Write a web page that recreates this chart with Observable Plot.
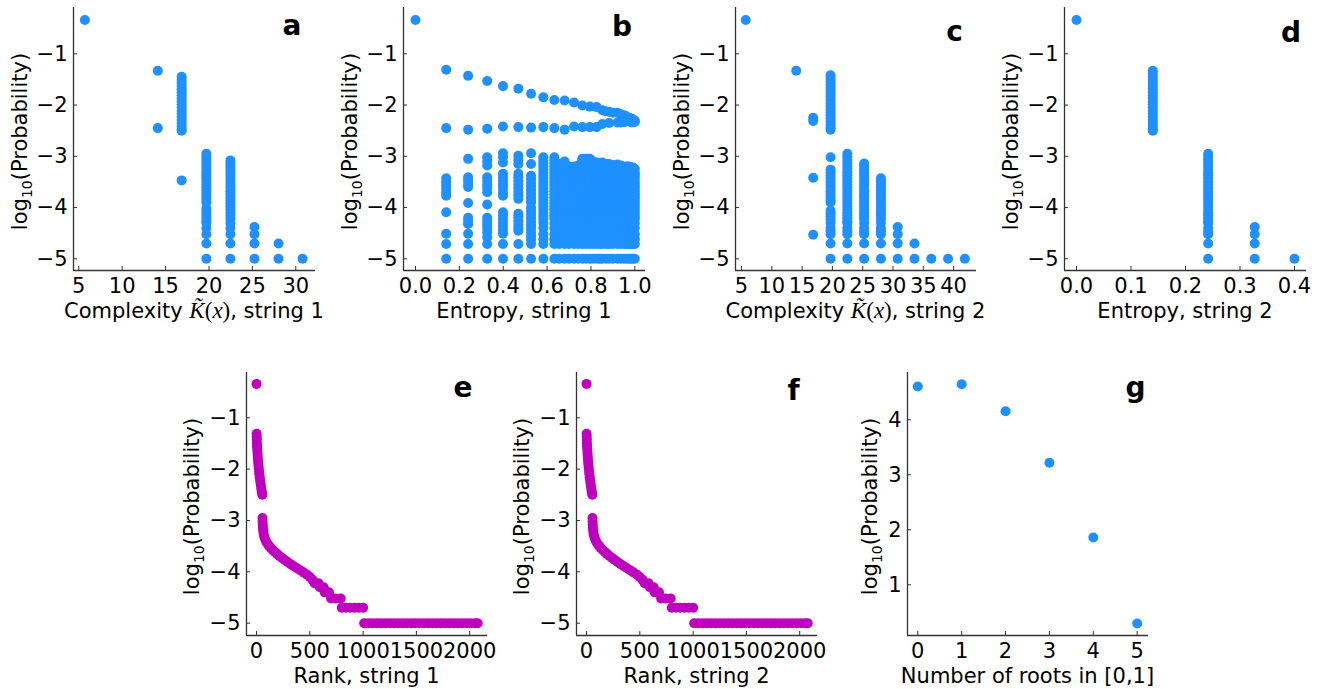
<!DOCTYPE html>
<html><head><meta charset="utf-8">
<script src="https://cdn.jsdelivr.net/npm/d3@7"></script>
<script src="https://cdn.jsdelivr.net/npm/@observablehq/plot@0.6"></script>
<style>
html,body{margin:0;padding:0;background:#fff;}
#fig{position:relative;width:1320px;height:689px;overflow:hidden;font-family:"DejaVu Sans";}
#fig svg{position:absolute;overflow:visible;max-width:none;}
#fig svg g[aria-label$="tick label"], #fig svg g[aria-label$="tick label"] text{font-size:21px !important;}
</style></head><body><div id="fig"></div>
<script>
// ---------- Panel a: complexity of string 1 ----------
const aComplexity = [5.7, 14.1, 16.85, 19.7, 22.47, 25.24, 28.01, 30.78];
const aLogP = [
  [-0.34],
  [-1.33, -2.45],
  [-1.45,-1.51,-1.57,-1.63,-1.69,-1.75,-1.81,-1.87,-1.93,-1.99,-2.05,-2.11,-2.17,-2.23,-2.29,-2.35,-2.41,-2.47,-2.5,-3.47],
  [-2.95,-3.01,-3.07,-3.13,-3.19,-3.25,-3.31,-3.37,-3.43,-3.49,-3.55,-3.61,-3.67,-3.73,-3.79,-3.85,-3.9,-4.02,-4.08,-4.14,-4.2,-4.26,-4.3,-4.4,-4.52,-4.7,-5],
  [-3.08,-3.14,-3.2,-3.26,-3.32,-3.38,-3.44,-3.5,-3.56,-3.62,-3.68,-3.74,-3.8,-3.86,-3.92,-3.98,-4.04,-4.1,-4.16,-4.22,-4.3,-4.4,-4.52,-4.7,-5],
  [-4.38,-4.52,-4.7,-5],
  [-4.7,-5],
  [-5]
];

// ---------- Panel b: entropy of string 1 ----------
const bTopEntropy = [0];
const bTopLogP = [-0.34];
const bArcEntropy = [0.14,0.24,0.327,0.399,0.469,0.527,0.583,0.633,0.68,0.723,0.761,0.795,0.826,0.852,0.883,0.921,0.951,0.974,0.992];
const bUpperArc = [-1.31,-1.43,-1.53,-1.63,-1.68,-1.78,-1.85,-1.9,-1.91,-1.95,-2.01,-2.03,-2.04,-2.1,-2.13,-2.15,-2.2,-2.25,-2.29];
const bLowerArc = [-2.45,-2.48,-2.46,-2.42,-2.43,-2.44,-2.43,-2.45,-2.48,-2.42,-2.43,-2.43,-2.43,-2.37,-2.35,-2.34,-2.33,-2.3,-2.29];
const bTipEntropy = [0.866,0.9,0.935,0.96,0.985,1.0,0.985,1.0,0.96,0.935];
const bTipLogP = [-2.12,-2.15,-2.18,-2.22,-2.26,-2.3,-2.34,-2.33,-2.32,-2.34];
const bColEntropy = [0.14,0.24,0.327,0.399,0.469,0.527];
const bColLogP = [
  [-3.43,-3.5,-3.57,-3.64,-3.71,-3.77,-4.09,-4.51,-4.71,-5],
  [-3.05,-3.41,-3.47,-3.54,-3.6,-3.91,-4.2,-4.26,-4.32,-4.51,-4.71,-5],
  [-3.02,-3.1,-3.18,-3.41,-3.48,-3.55,-3.62,-3.7,-3.94,-4.2,-4.27,-4.34,-4.41,-4.48,-4.58,-4.71,-5],
  [-2.94,-3.02,-3.12,-3.34,-3.41,-3.48,-3.55,-3.62,-3.7,-3.77,-4.09,-4.16,-4.23,-4.3,-4.37,-4.44,-4.51,-4.71,-5],
  [-2.99,-3.07,-3.15,-3.34,-3.41,-3.48,-3.55,-3.62,-3.69,-3.76,-3.83,-4.12,-4.19,-4.26,-4.33,-4.4,-4.45,-4.71,-5],
  [-2.94,-3.15,-3.38,-3.45,-3.52,-3.59,-3.66,-3.73,-3.8,-3.86,-3.9,-4.0,-4.07,-4.14,-4.21,-4.28,-4.35,-4.42,-4.49,-4.56,-4.63,-4.71,-5]
];
const bBlockEntropy = [0.583,0.633,0.655,0.68,0.70,0.723,0.742,0.761,0.778,0.795,0.81,0.826,0.84,0.852,0.868,0.883,0.90,0.921,0.936,0.951,0.963,0.974,0.984,0.992,1.0];
const bBlockTop = [-3.02,-3.02,-3.15,-3.1,-3.2,-3.2,-3.18,-3.05,-3.05,-3.05,-3.1,-3.12,-3.15,-3.12,-3.15,-3.15,-3.17,-3.16,-3.18,-3.2,-3.2,-3.2,-3.22,-3.22,-3.25];
const bBlockLevels = [-3.08,-3.14,-3.2,-3.26,-3.32,-3.38,-3.44,-3.5,-3.56,-3.62,-3.68,-3.74,-3.8,-3.86,-3.92,-3.98,-4.04,-4.1,-4.16,-4.22,-4.3,-4.4,-4.52,-4.62,-4.71,-5];

// ---------- Panel c: complexity of string 2 ----------
const cComplexity = [5.7, 14.03, 16.83, 19.7, 22.47, 25.24, 28.01, 30.78, 33.55, 36.32, 39.09, 41.86];
const cLogP = [
  [-0.34],
  [-1.33],
  [-2.25,-2.31,-3.42,-4.53],
  [-1.42,-1.48,-1.54,-1.6,-1.66,-1.72,-1.78,-1.84,-1.9,-1.96,-2.02,-2.08,-2.14,-2.2,-2.26,-2.32,-2.38,-2.44,-2.48,-3.02,-3.26,-3.32,-3.38,-3.44,-3.5,-3.56,-3.62,-3.68,-3.74,-3.8,-3.86,-3.9,-4.06,-4.12,-4.18,-4.24,-4.3,-4.4,-4.46,-4.52,-4.7,-5],
  [-2.95,-3.01,-3.07,-3.13,-3.19,-3.25,-3.31,-3.37,-3.43,-3.49,-3.55,-3.61,-3.67,-3.73,-3.79,-3.85,-3.91,-3.97,-4.03,-4.09,-4.15,-4.21,-4.27,-4.3,-4.4,-4.46,-4.52,-4.7,-5],
  [-3.14,-3.2,-3.26,-3.32,-3.38,-3.44,-3.5,-3.56,-3.62,-3.68,-3.74,-3.8,-3.86,-3.92,-3.98,-4.04,-4.1,-4.16,-4.22,-4.3,-4.4,-4.46,-4.52,-4.7,-5],
  [-3.43,-3.49,-3.55,-3.61,-3.67,-3.73,-3.79,-3.85,-3.91,-3.97,-4.03,-4.09,-4.15,-4.22,-4.3,-4.4,-4.46,-4.52,-4.7,-5],
  [-4.38,-4.52,-4.7,-5],
  [-4.7,-5],
  [-5],
  [-5],
  [-5]
];

// ---------- Panel d: entropy of string 2 ----------
const dEntropy = [0, 0.14, 0.2416, 0.327, 0.4];
const dLogP = [
  [-0.34],
  [-1.33,-1.39,-1.45,-1.51,-1.57,-1.63,-1.69,-1.75,-1.81,-1.87,-1.93,-1.99,-2.05,-2.11,-2.17,-2.23,-2.29,-2.35,-2.41,-2.47,-2.5],
  [-2.95,-3.01,-3.07,-3.13,-3.19,-3.25,-3.31,-3.37,-3.43,-3.49,-3.55,-3.61,-3.67,-3.73,-3.79,-3.85,-3.91,-3.97,-4.03,-4.09,-4.15,-4.21,-4.27,-4.3,-4.4,-4.46,-4.52,-4.7,-5],
  [-4.38,-4.52,-4.7,-5],
  [-5]
];

// ---------- Panels e, f: rank plots ----------
const eRank = [0,1,2,3,4,5,7,9,11,13,15,18,21,24,27,30,34,38,42,46,50,54,
  56,57,58,60,63,66,72,80,90,102,116,132,150,170,192,215,240,265,292,320,350,380,410,440,470,500,525,545,580,595,630,640,680,700,740,790,
  800,840,880,920,960,1000,
  1010,1050,1090,1130,1170,1210,1250,1290,1330,1370,1410,1450,1490,1530,1570,1610,1650,1690,1730,1770,1810,1850,1890,1930,1970,2010,2050,2075];
const eLogP = [-0.34,-1.31,-1.37,-1.43,-1.5,-1.56,-1.62,-1.68,-1.74,-1.8,-1.86,-1.92,-1.98,-2.04,-2.1,-2.16,-2.22,-2.28,-2.34,-2.4,-2.45,-2.5,
  -2.95,-3.02,-3.08,-3.14,-3.2,-3.26,-3.31,-3.36,-3.41,-3.45,-3.49,-3.53,-3.57,-3.61,-3.65,-3.69,-3.73,-3.77,-3.81,-3.85,-3.89,-3.93,-3.97,-4.01,-4.05,-4.1,-4.155,-4.22,-4.22,-4.3,-4.3,-4.4,-4.4,-4.52,-4.52,-4.52,
  -4.7,-4.7,-4.7,-4.7,-4.7,-4.7,
  -5,-5,-5,-5,-5,-5,-5,-5,-5,-5,-5,-5,-5,-5,-5,-5,-5,-5,-5,-5,-5,-5,-5,-5,-5,-5,-5,-5];
// string 2 reads the same as string 1 in the picture
const fRank = eRank.slice();
const fLogP = eLogP.slice();

// ---------- Panel g: number of roots ----------
const gRoots = [0, 1, 2, 3, 4, 5];
const gLogP = [4.605, 4.646, 4.156, 3.22, 1.86, 0.296];

// ---------- tables ----------
const cols = (xs, ys) => xs.flatMap((x, i) => ys[i].map(y => ({x, y})));
const pairs = (xs, ys) => xs.map((x, i) => ({x, y: ys[i]}));
const aData = cols(aComplexity, aLogP);
const bData = [
  ...pairs(bTopEntropy, bTopLogP),
  ...pairs(bArcEntropy, bUpperArc),
  ...pairs(bArcEntropy, bLowerArc),
  ...pairs(bTipEntropy, bTipLogP),
  ...cols(bColEntropy, bColLogP),
  ...bBlockEntropy.flatMap((x, i) => [bBlockTop[i], ...bBlockLevels.filter(l => l < bBlockTop[i] - 0.03)].map(y => ({x, y})))
];
const cData = cols(cComplexity, cLogP);
const dData = cols(dEntropy, dLogP);
const eData = pairs(eRank, eLogP);
const fData = pairs(fRank, fLogP);
const gData = pairs(gRoots, gLogP);

// ---------- drawing ----------
const BLUE = "#1e90ff", MAGENTA = "#bf00bf";
const FS = 21;
const mL = 90, mT = 12, mR = 20, mB = 80;
const fig = document.getElementById("fig");
const fmtInt = d3.format("d"), fmt1 = d3.format(".1f");
const logLabel = (t) => { t.append("tspan").text("log"); t.append("tspan").attr("font-size", 14).attr("dy", 5).text("10"); t.append("tspan").attr("dy", -5).text("(Probability)"); };
const kLabel = (n) => (t) => {
  t.append("tspan").text("Complexity ");
  t.append("tspan").attr("font-family", "Liberation Serif").attr("font-style", "italic").attr("font-size", 23).text("K\u0303");
  t.append("tspan").attr("font-family", "Liberation Serif").attr("font-size", 23).text("(");
  t.append("tspan").attr("font-family", "Liberation Serif").attr("font-style", "italic").attr("font-size", 23).text("x");
  t.append("tspan").attr("font-family", "Liberation Serif").attr("font-size", 23).text(")");
  t.append("tspan").text(", string " + n);
};
const plainLabel = (s) => (t) => t.text(s);

function panel(c) {
  const svg = Plot.plot({
    width: c.w + mL + mR, height: c.h + mT + mB,
    marginLeft: mL, marginRight: mR, marginTop: mT, marginBottom: mB,
    style: {fontFamily: "DejaVu Sans", fontSize: FS + "px", color: "#000", background: "transparent", overflow: "visible"},
    x: {domain: c.xDomain}, y: {domain: c.yDomain},
    marks: [
      Plot.axisX({ticks: c.xTicks, tickFormat: c.xFmt, tickSize: -4, tickPadding: 12, label: null, fontSize: FS, stroke: "#333"}),
      Plot.axisY({ticks: c.yTicks, tickFormat: c.yFmt, tickSize: -4, tickPadding: 10, label: null, fontSize: FS, stroke: "#333"}),
      Plot.ruleX([c.xDomain[0]], {stroke: "#333", strokeWidth: 1.3}),
      Plot.ruleY([c.yDomain[0]], {stroke: "#333", strokeWidth: 1.3}),
      Plot.dot(c.data, {x: "x", y: "y", r: 5, fill: c.color})
    ]
  });
  svg.style.left = (c.left - mL) + "px";
  svg.style.top = (c.top - mT) + "px";
  const s = d3.select(svg);
  const xl = s.append("text").attr("x", mL + c.w / 2).attr("y", mT + c.h + 48)
    .attr("text-anchor", "middle").attr("font-size", FS).attr("fill", "#000");
  c.xLabel(xl);
  const yl = s.append("text").attr("text-anchor", "middle").attr("font-size", FS).attr("fill", "#000")
    .attr("transform", `translate(${mL - c.yGap},${mT + c.h / 2 + 3}) rotate(-90)`);
  logLabel(yl);
  s.append("text").attr("x", c.letterX - c.left + mL).attr("y", c.letterY - c.top + mT)
    .attr("text-anchor", "middle").attr("font-size", 28).attr("font-weight", "bold").attr("fill", "#000").text(c.letter);
  fig.appendChild(svg);
}

const topY = {top: 7, h: 263, yDomain: [-5.228, -0.0966], yTicks: [-5, -4, -3, -2, -1], yFmt: fmtInt, yGap: 46};
const botY = {top: 372, h: 263, yDomain: [-5.24, -0.118], yTicks: [-5, -4, -3, -2, -1], yFmt: fmtInt, yGap: 47};

panel({...topY, left: 73, w: 242, xDomain: [4.39, 32.27], xTicks: [5, 10, 15, 20, 25, 30], xFmt: fmtInt,
  data: aData, color: BLUE, xLabel: kLabel(1), letter: "a", letterX: 292, letterY: 35});
panel({...topY, left: 403, w: 242, xDomain: [-0.0547, 1.0488], xTicks: [0, 0.2, 0.4, 0.6, 0.8, 1.0], xFmt: fmt1,
  data: bData, color: BLUE, xLabel: plainLabel("Entropy, string 1"), letter: "b", letterX: 622, letterY: 36});
panel({...topY, left: 735, w: 241, xDomain: [4.01, 43.78], xTicks: [5, 10, 15, 20, 25, 30, 35, 40], xFmt: fmtInt,
  data: cData, color: BLUE, xLabel: kLabel(2), letter: "c", letterX: 954.5, letterY: 41});
panel({...topY, left: 1064, w: 242, xDomain: [-0.022, 0.422], xTicks: [0, 0.1, 0.2, 0.3, 0.4], xFmt: fmt1,
  data: dData, color: BLUE, xLabel: plainLabel("Entropy, string 2"), letter: "d", letterX: 1291, letterY: 42});
panel({...botY, left: 246, w: 241, xDomain: [-94, 2167], xTicks: [0, 500, 1000, 1500, 2000], xFmt: fmtInt,
  data: eData, color: MAGENTA, xLabel: plainLabel("Rank, string 1"), letter: "e", letterX: 463, letterY: 397});
panel({...botY, left: 576, w: 241, xDomain: [-94, 2167], xTicks: [0, 500, 1000, 1500, 2000], xFmt: fmtInt,
  data: fData, color: MAGENTA, xLabel: plainLabel("Rank, string 2"), letter: "f", letterX: 793.7, letterY: 400});
panel({top: 372, h: 263, yDomain: [0.078, 4.86], yTicks: [1, 2, 3, 4], yFmt: fmtInt, yGap: 30,
  left: 907, w: 241, xDomain: [-0.235, 5.258], xTicks: [0, 1, 2, 3, 4, 5], xFmt: fmtInt,
  data: gData, color: BLUE, xLabel: plainLabel("Number of roots in [0,1]"), letter: "g", letterX: 1135.5, letterY: 397});
</script></body></html>
